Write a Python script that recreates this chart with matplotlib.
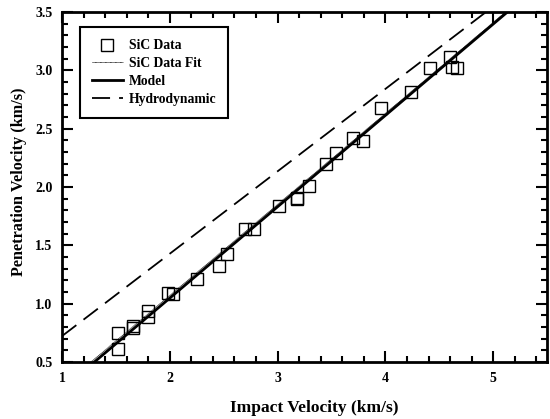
import matplotlib
matplotlib.use("Agg")
import matplotlib.pyplot as plt
from matplotlib.ticker import MultipleLocator

plt.rcParams['font.family'] = ['Liberation Serif', 'DejaVu Serif']
plt.rcParams['font.weight'] = 'bold'

# Measured impact / penetration velocities for SiC (km/s)
impact_v = [1.52, 1.52, 1.66, 1.66, 1.80, 1.80, 1.98, 2.03, 2.25, 2.46, 2.53,
            2.70, 2.78, 3.01, 3.18, 3.18, 3.29, 3.45, 3.54, 3.70, 3.79, 3.96,
            4.24, 4.41, 4.60, 4.62, 4.66]
penetration_v = [0.75, 0.61, 0.81, 0.79, 0.94, 0.89, 1.09, 1.08, 1.21, 1.32, 1.43,
                 1.64, 1.64, 1.84, 1.90, 1.91, 2.01, 2.20, 2.29, 2.42, 2.39, 2.68,
                 2.81, 3.02, 3.11, 3.03, 3.02]

# Straight lines given by their end points
fit_v = [1.0, 5.5]
fit_u = [0.29, 3.80]
model_v = [1.0, 5.5]
model_u = [0.265, 3.788]
hydro_v = [1.0, 5.5]
hydro_u = [0.722, 3.90]

fig = plt.figure(figsize=(5.5, 4.19), dpi=100)
ax = fig.add_axes([0.1127, 0.136, 0.882, 0.8354])

ax.plot(impact_v, penetration_v, linestyle='none', marker='s', markersize=8,
        markerfacecolor='none', markeredgecolor='black', markeredgewidth=1.0,
        label='SiC Data', zorder=3)
ax.plot(fit_v, fit_u, color='black', linewidth=0.6, linestyle=(0, (1, 0.5)),
        label='SiC Data Fit', zorder=2)
ax.plot(model_v, model_u, color='black', linewidth=2.0, label='Model', zorder=2)
ax.plot(hydro_v, hydro_u, color='black', linewidth=1.3, linestyle=(0, (10, 5)),
        label='Hydrodynamic', zorder=2)

ax.set_xlim(1, 5.5)
ax.set_ylim(0.5, 3.5)
ax.xaxis.set_minor_locator(MultipleLocator(0.2))
ax.yaxis.set_minor_locator(MultipleLocator(0.1))
ax.set_xticks([1, 2, 3, 4, 5])
ax.set_xticklabels(['1', '2', '3', '4', '5'])
ax.set_yticks([0.5, 1.0, 1.5, 2.0, 2.5, 3.0, 3.5])
ax.set_yticklabels(['0.5', '1.0', '1.5', '2.0', '2.5', '3.0', '3.5'])

ax.tick_params(which='both', direction='in', top=True, right=True,
               labelsize=10, width=1.5, pad=7)
ax.tick_params(which='major', length=8)
ax.tick_params(which='minor', length=4.5)
for s in ax.spines.values():
    s.set_linewidth(2.0)

ax.set_xlabel('Impact Velocity (km/s)', fontsize=12.5, fontweight='bold',
              labelpad=11, x=0.52)
ax.set_ylabel('Penetration Velocity (km/s)', fontsize=11.7, fontweight='bold',
              labelpad=6, y=0.515)

leg = ax.legend(loc='upper left', bbox_to_anchor=(0.0363, 0.957), fontsize=9.8,
                frameon=True, fancybox=False, edgecolor='black', framealpha=1,
                handlelength=2.3, handletextpad=0.4, labelspacing=0.36,
                borderpad=0.9, borderaxespad=0)
leg.get_frame().set_linewidth(1.5)

fig.savefig('out.png', dpi=100)
